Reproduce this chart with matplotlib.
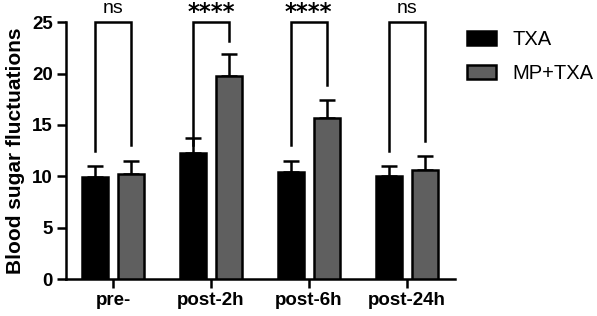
import numpy as np
import matplotlib
matplotlib.use('Agg')
import matplotlib.pyplot as plt

plt.rcParams['font.family'] = ['Liberation Sans', 'DejaVu Sans']

categories = ['pre-', 'post-2h', 'post-6h', 'post-24h']
groups = ['TXA', 'MP+TXA']
txa_mean = [9.9, 12.25, 10.45, 10.0]
txa_err = [1.1, 1.5, 1.05, 1.0]
mp_mean = [10.2, 19.8, 15.7, 10.6]
mp_err = [1.25, 2.05, 1.7, 1.4]
signif = ['ns', '****', '****', 'ns']
# bracket leg bottoms (left, right)
leg_left = [12.45, 13.0, 13.0, 12.5]
leg_right = [13.0, 23.2, 18.9, 13.45]

fig = plt.figure(figsize=(5.97, 3.16), dpi=100)
ax = fig.add_axes([0.1106, 0.117, 0.651, 0.813])

x = np.arange(len(categories))
off = 0.185
w = 0.265
lw = 1.8

ax.bar(x - off, txa_mean, w, color='black', edgecolor='black', linewidth=lw,
       label=groups[0], zorder=3)
ax.bar(x + off, mp_mean, w, color='#5f5f5f', edgecolor='black', linewidth=lw,
       label=groups[1], zorder=3)
ax.errorbar(x - off, txa_mean, yerr=[np.zeros(4), txa_err], fmt='none',
            ecolor='black', elinewidth=lw, capsize=5.5, capthick=lw, zorder=2)
ax.errorbar(x + off, mp_mean, yerr=[np.zeros(4), mp_err], fmt='none',
            ecolor='black', elinewidth=lw, capsize=5.5, capthick=lw, zorder=2)

# significance brackets
top = 25
for i in range(len(categories)):
    ax.plot([x[i] - off, x[i] - off, x[i] + off, x[i] + off],
            [leg_left[i], top, top, leg_right[i]], color='black', lw=lw,
            clip_on=False, solid_joinstyle='miter', zorder=4)
    if signif[i] == 'ns':
        ax.text(x[i], top + 0.9, signif[i], ha='center', va='baseline',
                fontsize=14)
    else:
        ax.text(x[i], top + 0.35, signif[i], ha='center', va='baseline',
                fontsize=16.5, fontweight='bold', family='DejaVu Sans')

ax.set_xlim(-0.48, 3.49)
ax.set_ylim(0, 25)
ax.set_yticks([0, 5, 10, 15, 20, 25])
ax.set_xticks(x)
ax.set_xticklabels(categories)
for s in ['top', 'right']:
    ax.spines[s].set_visible(False)
for s in ['left', 'bottom']:
    ax.spines[s].set_linewidth(lw)
ax.tick_params(axis='both', width=lw, length=6.5, labelsize=13.5, pad=3)
for t in ax.get_xticklabels() + ax.get_yticklabels():
    t.set_fontweight('bold')
ax.set_ylabel('Blood sugar fluctuations', fontsize=15, fontweight='bold',
              labelpad=5)

leg = ax.legend(loc='upper left', bbox_to_anchor=(467 / 597, 1 - 30 / 316),
                bbox_transform=fig.transFigure, frameon=False,
                fontsize=14.5, handlelength=1.44, handleheight=0.72,
                labelspacing=0.75, handletextpad=0.8, borderpad=0,
                borderaxespad=0)

fig.savefig('out.png', dpi=100)
